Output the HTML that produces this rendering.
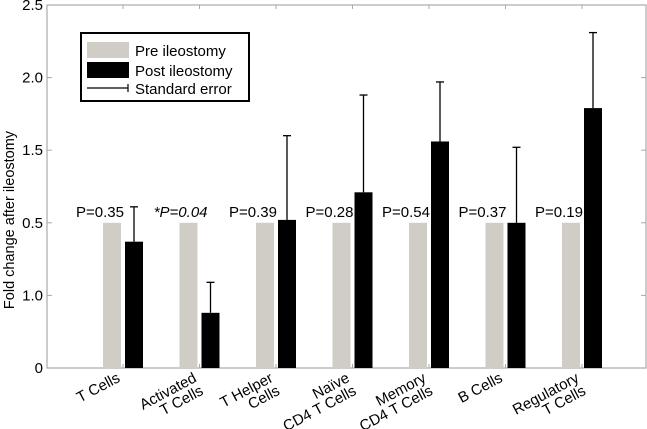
<!DOCTYPE html>
<html><head><meta charset="utf-8"><style>
body{margin:0;background:#fff}
svg{display:block;font-family:"Liberation Sans",Arial,sans-serif}
</style></head><body>
<svg id="chart" width="647" height="429" viewBox="0 0 647 429">
<g id="axes"></g>
<g id="bars"></g>
<g id="legend">
<rect x="81" y="33" width="168" height="68" fill="#fff" stroke="#000" stroke-width="2"/>
<rect x="87" y="42" width="42" height="16" fill="#d0cdc6"/>
<text x="135" y="56" font-size="15">Pre ileostomy</text>
<rect x="87" y="62" width="42" height="16" fill="#000"/>
<text x="135" y="76" font-size="15">Post ileostomy</text>
<line x1="87" y1="88" x2="128" y2="88" stroke="#000" stroke-width="1.2"/>
<line x1="128" y1="84" x2="128" y2="92" stroke="#000" stroke-width="1.2"/>
<text x="135" y="94" font-size="15">Standard error</text>
</g>
<text transform="translate(14,220) rotate(-90)" text-anchor="middle" font-size="14.5">Fold change after ileostomy</text>
</svg>
<script>
const categories=[["T Cells"],["Activated","T Cells"],["T Helper","Cells"],["Naïve","CD4 T Cells"],["Memory","CD4 T Cells"],["B Cells"],["Regulatory","T Cells"]];
const preValues=[1,1,1,1,1,1,1];
const postValues=[0.87,0.38,1.02,1.21,1.56,1.0,1.79];
const errTops=[1.11,0.59,1.6,1.88,1.97,1.52,2.31];
const pLabels=["P=0.35","*P=0.04","P=0.39","P=0.28","P=0.54","P=0.37","P=0.19"];
const tickValues=[0,0.5,1.0,1.5,2.0,2.5];
const tickLabels=["0","1.0","0.5","1.5","2.0","2.5"];

const NS="http://www.w3.org/2000/svg";
const L=47,R=646,T=5,B=368;
const y=v=>B-(v/2.5)*(B-T);
const x=i=>123+i*76.5;
function mk(tag,attrs,parent,text){const e=document.createElementNS(NS,tag);for(const k in attrs)e.setAttribute(k,attrs[k]);if(text!==undefined)e.textContent=text;parent.appendChild(e);return e;}
const axes=document.getElementById('axes'),bars=document.getElementById('bars');
let f=mk('rect',{x:L,y:T,width:R-L,height:B-T,fill:'none',stroke:'#aaa','stroke-width':1.2},axes);


tickValues.forEach((v,i)=>{
 let t=mk('line',{x1:L,x2:L+5,y1:y(v),y2:y(v),stroke:'#aaa'},axes);
 
 
 let t2=mk('line',{x1:R-5,x2:R,y1:y(v),y2:y(v),stroke:'#aaa'},axes);
 
 
 let l=mk('text',{x:L-4,y:y(v)+5,'text-anchor':'end','font-size':15},axes,tickLabels[i]);
 
 
});
categories.forEach((c,i)=>{
 const cx=x(i);
 let tk=mk('line',{x1:cx,x2:cx,y1:T,y2:T+4,stroke:'#aaa'},axes);
 
 
 let tb=mk('line',{x1:cx,x2:cx,y1:B-4,y2:B,stroke:'#aaa'},axes);
 
 
 let pre=mk('rect',{x:cx-20,y:y(preValues[i]),width:18,height:B-y(preValues[i]),fill:'#d0cdc6'},bars);
 
 
 let post=mk('rect',{x:cx+2,y:y(postValues[i]),width:18,height:B-y(postValues[i]),fill:'#000'},bars);
 
 
 let ev=mk('line',{x1:cx+11,x2:cx+11,y1:y(postValues[i]),y2:y(errTops[i]),stroke:'#000','stroke-width':1.3},bars);
 
 
 let ec=mk('line',{x1:cx+7,x2:cx+15,y1:y(errTops[i]),y2:y(errTops[i]),stroke:'#000','stroke-width':1.3},bars);
 
 
 const it=pLabels[i].startsWith('*');
 let p=mk('text',{x:it?cx+8:cx+1,y:y(preValues[i])-6,'text-anchor':'end','font-size':15,'font-style':it?'italic':'normal'},bars,pLabels[i]);
 
 
 let g=mk('text',{transform:`translate(${cx-2},381) rotate(-28)`,'text-anchor':'end','font-size':15},axes);
 
 
 c.forEach((s,j)=>{mk('tspan',{x:0,y:j*14.5},g,s);});
});
</script>
</body></html>
